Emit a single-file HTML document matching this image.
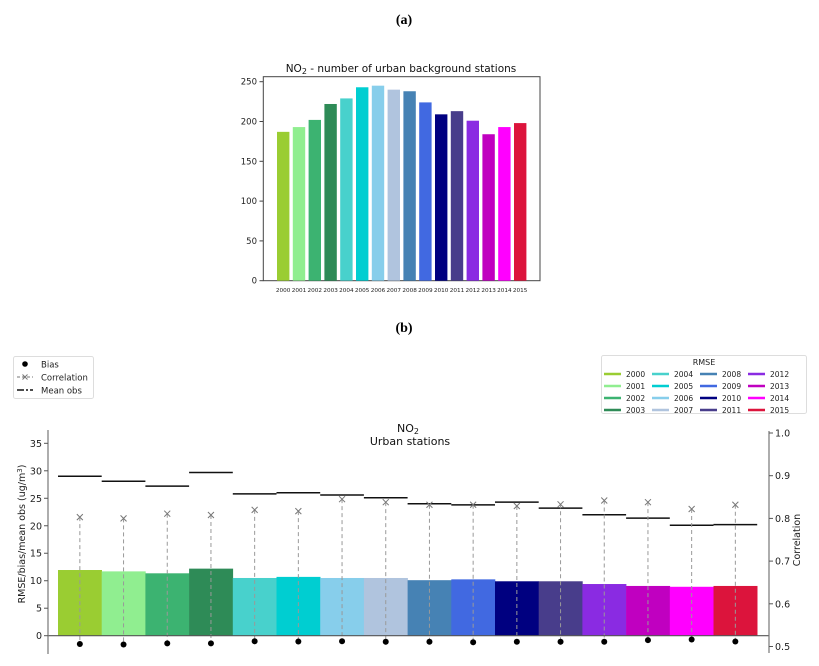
<!DOCTYPE html>
<html><head><meta charset="utf-8"><style>
html,body{margin:0;padding:0;background:#fff;}
svg{display:block;font-family:"DejaVu Sans","Liberation Sans",sans-serif;}
</style></head><body>
<svg id="svg" width="819" height="666" viewBox="0 0 819 666" xmlns="http://www.w3.org/2000/svg">
<text x="404" y="24" font-family="Liberation Serif,serif" font-weight="bold" font-size="14" text-anchor="middle">(a)</text>
<text x="404" y="332" font-family="Liberation Serif,serif" font-weight="bold" font-size="14" text-anchor="middle">(b)</text>
<g id="top"></g>
<g id="bot"></g>
</svg>
<script>
const years=['2000','2001','2002','2003','2004','2005','2006','2007','2008','2009','2010','2011','2012','2013','2014','2015'];
const colors=['#9acd32','#90ee90','#3cb371','#2e8b57','#48d1cc','#00ced1','#87ceeb','#b0c4de','#4682b4','#4169e1','#000080','#483d8b','#8a2be2','#c000c0','#ff00ff','#dc143c'];
const stations=[187,193,202,222,229,243,245,240,238,224,209,213,201,184,193,198];
const topTicks=[0,50,100,150,200,250];
const rmse=[11.95,11.7,11.35,12.2,10.5,10.7,10.5,10.5,10.1,10.25,9.9,9.9,9.4,9.05,8.9,9.05];
const bias=[-1.5,-1.6,-1.4,-1.4,-1.0,-1.05,-1.0,-1.1,-1.1,-1.2,-1.1,-1.1,-1.1,-0.8,-0.7,-1.05];
const meanObs=[29.0,28.1,27.2,29.7,25.8,26.0,25.6,25.1,24.0,23.8,24.3,23.2,22.0,21.4,20.1,20.2];
const corr=[0.803,0.80,0.811,0.808,0.82,0.817,0.845,0.838,0.832,0.832,0.829,0.833,0.842,0.838,0.822,0.832];
const leftTicks=[0,5,10,15,20,25,30,35];
const rightTicks=[0.5,0.6,0.7,0.8,0.9,1.0];
const NS='http://www.w3.org/2000/svg';
function mk(p,tag,a,txt){const e=document.createElementNS(NS,tag);for(const k in a)e.setAttribute(k,a[k]);if(txt!==undefined)e.textContent=txt;p.appendChild(e);return e;}
// top chart
const T=document.getElementById('top');
const tx=i=>277+i*15.8, ty=v=>280.7-v*0.796;
mk(T,'rect',{x:263.3,y:76.7,width:276.7,height:204,fill:'none',stroke:'#444','stroke-width':1});
stations.forEach((v,i)=>{
 const r=mk(T,'rect',{x:tx(i),y:ty(v),width:12.4,height:ty(0)-ty(v),fill:colors[i]});
 
 
 const t=mk(T,'text',{x:tx(i)+6.2,y:292,'font-size':5.5,'text-anchor':'middle',fill:'#222',textLength:14.5,lengthAdjust:'spacingAndGlyphs'},years[i]);
 
 
});
topTicks.forEach(v=>{
 mk(T,'line',{x1:259.5,x2:263.3,y1:ty(v),y2:ty(v),stroke:'#444'});
 const t=mk(T,'text',{x:257,y:ty(v)+3,'font-size':8.5,'text-anchor':'end',fill:'#222'},v);
 
 
});
const tt=mk(T,'text',{x:401,y:72,'font-size':10.5,'text-anchor':'middle',fill:'#111'});
tt.innerHTML='NO<tspan font-size="8" dy="2">2</tspan><tspan dy="-2"> - number of urban background stations</tspan>';


// bottom chart
const B=document.getElementById('bot');
const bx=i=>58+i*43.7, bw=43.7;
const ly=v=>635.7-v*5.497;
const ry=v=>646.5-(v-0.5)*427;
rmse.forEach((v,i)=>{
 const r=mk(B,'rect',{x:bx(i),y:ly(v),width:bw+0.3,height:ly(0)-ly(v),fill:colors[i]});
 
 
});
meanObs.forEach((v,i)=>{
 const l=mk(B,'line',{x1:bx(i),x2:bx(i)+bw,y1:ly(v),y2:ly(v),stroke:'#111','stroke-width':1.5});
 
 
});
corr.forEach((v,i)=>{
 const cx=bx(i)+bw/2, cy=ry(v);
 const d=mk(B,'line',{x1:cx,x2:cx,y1:cy,y2:ly(bias[i])+3,stroke:'#999','stroke-width':1,'stroke-dasharray':'4,3'});
 
 
 const c=mk(B,'path',{d:`M${cx-3},${cy-3}L${cx+3},${cy+3}M${cx-3},${cy+3}L${cx+3},${cy-3}`,stroke:'#777','stroke-width':1});
 
 
});
mk(B,'line',{x1:48,x2:769,y1:ly(0),y2:ly(0),stroke:'#555','stroke-width':1.2});
bias.forEach((v,i)=>{
 const c=mk(B,'circle',{cx:bx(i)+bw/2,cy:ly(v),r:3,fill:'#000'});
 
 
});
mk(B,'line',{x1:48,x2:48,y1:430,y2:654,stroke:'#777','stroke-width':1.2});
mk(B,'line',{x1:769,x2:769,y1:431,y2:653,stroke:'#777','stroke-width':1.2});
leftTicks.forEach(v=>{
 mk(B,'line',{x1:44,x2:48,y1:ly(v),y2:ly(v),stroke:'#555'});
 const t=mk(B,'text',{x:42,y:ly(v)+3.5,'font-size':9.5,'text-anchor':'end',fill:'#222'},v);
 
 
});
rightTicks.forEach(v=>{
 mk(B,'line',{x1:769,x2:773,y1:ry(v),y2:ry(v),stroke:'#555'});
 const t=mk(B,'text',{x:775,y:ry(v)+3.5,'font-size':9.5,fill:'#222'},v.toFixed(1));
 
 
});
const yl=mk(B,'text',{x:0,y:0,'font-size':9.5,'text-anchor':'middle',fill:'#222',transform:'translate(25,534) rotate(-90)'});
yl.innerHTML='RMSE/bias/mean obs (ug/m<tspan font-size="7" dy="-3">3</tspan><tspan dy="3">)</tspan>';


const yr=mk(B,'text',{x:0,y:0,'font-size':9.5,'text-anchor':'middle',fill:'#222',transform:'translate(800,540) rotate(-90)'},'Correlation');


const bt=mk(B,'text',{x:408,y:432,'font-size':11,'text-anchor':'middle',fill:'#111'});
bt.innerHTML='NO<tspan font-size="8" dy="2">2</tspan>';


const bt2=mk(B,'text',{x:410,y:445,'font-size':11,'text-anchor':'middle',fill:'#111'},'Urban stations');


// left legend
const L=mk(B,'g',{});


mk(L,'rect',{x:13.5,y:356.5,width:80,height:42,fill:'#fff',stroke:'#ddd',rx:2});
mk(L,'circle',{cx:25,cy:364,r:2.8,fill:'#000'});
mk(L,'text',{x:41,y:367.5,'font-size':8.5,fill:'#222'},'Bias');
mk(L,'line',{x1:17,x2:33,y1:377,y2:377,stroke:'#777','stroke-dasharray':'3,2'});
mk(L,'path',{d:'M22.5,374.5L27.5,379.5M22.5,379.5L27.5,374.5',stroke:'#777'});
mk(L,'text',{x:41,y:380.5,'font-size':8.5,fill:'#222'},'Correlation');
mk(L,'line',{x1:17,x2:33,y1:390,y2:390,stroke:'#111','stroke-width':1.5,'stroke-dasharray':'7,2,2,2'});
mk(L,'text',{x:41,y:393.5,'font-size':8.5,fill:'#222'},'Mean obs');
// right legend
const R=mk(B,'g',{});


mk(R,'rect',{x:601.5,y:355.5,width:205,height:58,fill:'#fff',stroke:'#ddd',rx:2});
mk(R,'text',{x:704,y:365,'font-size':8,'text-anchor':'middle',fill:'#222'},'RMSE');
years.forEach((yv,i)=>{
 const col=Math.floor(i/4), row=i%4;
 const x=604+col*48, y=374+row*12;
 const s=mk(R,'line',{x1:x,x2:x+17,y1:y,y2:y,stroke:colors[i],'stroke-width':2.5});
 
 
 const t=mk(R,'text',{x:x+22,y:y+3,'font-size':7.5,fill:'#222'},yv);
 
 
});
</script>
</body></html>
